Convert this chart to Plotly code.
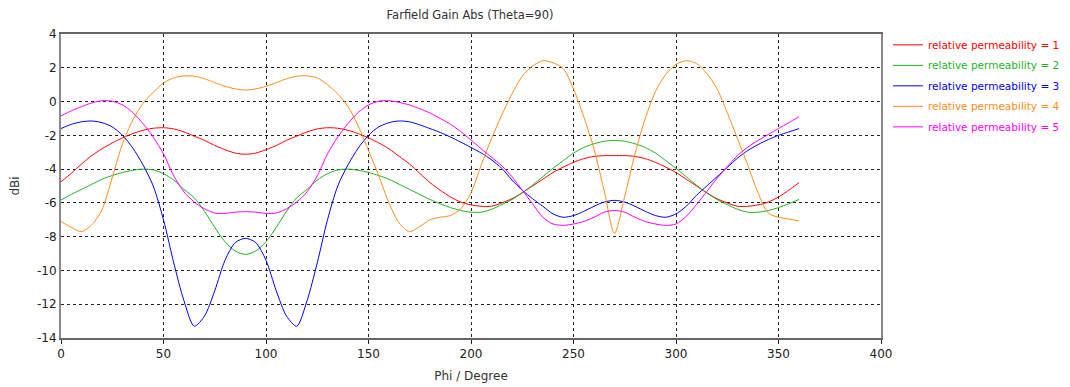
import plotly.graph_objects as go

phi = list(range(0, 361, 5))

mu1 = [-4.75, -4.25, -3.7, -3.2, -2.8, -2.45, -2.15, -1.9, -1.7, -1.58, -1.55, -1.62, -1.8, -2.05, -2.3, -2.6, -2.85, -3.05, -3.12,
       -3.05, -2.85, -2.6, -2.3, -2.05, -1.8, -1.62, -1.55, -1.58, -1.7, -1.9, -2.15, -2.45, -2.8, -3.25, -3.7, -4.25, -4.8,
       -5.25, -5.65, -5.95, -6.12, -6.2, -6.2, -6.0, -5.75, -5.4, -5.0, -4.6, -4.2, -3.88, -3.6, -3.38, -3.25, -3.2, -3.2,
       -3.2, -3.25, -3.38, -3.6, -3.88, -4.2, -4.6, -5.0, -5.4, -5.75, -6.0, -6.2, -6.2, -6.12, -5.95, -5.65, -5.25, -4.8]

mu2 = [-5.83, -5.5, -5.2, -4.9, -4.6, -4.38, -4.2, -4.07, -4.0, -4.05, -4.27, -4.65, -5.2, -5.7, -6.5, -7.45, -8.3, -8.85, -9.05,
       -8.85, -8.3, -7.45, -6.5, -5.7, -5.2, -4.65, -4.27, -4.05, -4.0, -4.07, -4.2, -4.38, -4.6, -4.9, -5.2, -5.5, -5.8,
       -6.05, -6.28, -6.45, -6.55, -6.55, -6.38, -6.1, -5.8, -5.4, -4.95, -4.45, -3.95, -3.5, -3.05, -2.72, -2.5, -2.35, -2.3,
       -2.35, -2.5, -2.72, -3.05, -3.5, -3.95, -4.45, -4.95, -5.4, -5.8, -6.1, -6.38, -6.55, -6.55, -6.45, -6.28, -6.05, -5.8]

mu3 = [-1.6, -1.35, -1.2, -1.15, -1.25, -1.5, -2.0, -2.75, -3.75, -5.0, -7.0, -9.55, -11.8, -13.3, -12.7, -11.2, -9.4, -8.35, -8.1,
       -8.35, -9.4, -11.2, -12.7, -13.3, -11.8, -9.55, -7.0, -5.0, -3.75, -2.75, -2.0, -1.5, -1.25, -1.15, -1.2, -1.38, -1.6,
       -1.83, -2.1, -2.4, -2.72, -3.05, -3.45, -3.95, -4.65, -5.25, -5.75, -6.2, -6.65, -6.85, -6.75, -6.5, -6.2, -5.95, -5.85,
       -5.95, -6.2, -6.5, -6.75, -6.85, -6.65, -6.2, -5.55, -5.0, -4.45, -3.9, -3.35, -2.9, -2.55, -2.25, -2.0, -1.8, -1.6]

mu4 = [-7.1, -7.45, -7.7, -7.3, -6.4, -4.5, -2.5, -1.1, -0.1, 0.55, 1.1, 1.4, 1.52, 1.5, 1.35, 1.12, 0.9, 0.75, 0.68,
       0.75, 0.9, 1.12, 1.35, 1.5, 1.52, 1.4, 1.0, 0.45, -0.3, -1.45, -2.9, -4.4, -6.0, -7.2, -7.7, -7.4, -7.0,
       -6.85, -6.75, -6.35, -5.4, -3.75, -2.2, -0.8, 0.45, 1.5, 2.1, 2.42, 2.3, 1.95, 0.75, -0.9, -2.8, -5.3, -7.8,
       -5.6, -3.1, -1.0, 0.6, 1.6, 2.2, 2.42, 2.25, 1.67, 0.75, -0.65, -2.2, -3.75, -5.4, -6.6, -6.85, -6.95, -7.07]

mu5 = [-0.85, -0.55, -0.3, -0.08, 0.05, 0.02, -0.2, -0.65, -1.3, -2.1, -3.1, -4.4, -5.35, -5.95, -6.35, -6.6, -6.62, -6.55, -6.52,
       -6.55, -6.62, -6.6, -6.35, -5.95, -5.35, -4.4, -3.1, -2.1, -1.3, -0.65, -0.2, 0.02, 0.05, -0.05, -0.2, -0.42, -0.68,
       -1.0, -1.35, -1.78, -2.28, -2.8, -3.3, -3.8, -4.45, -5.25, -6.05, -6.85, -7.25, -7.33, -7.25, -7.1, -6.85, -6.55, -6.45,
       -6.55, -6.85, -7.1, -7.25, -7.33, -7.25, -6.8, -6.1, -5.33, -4.55, -3.85, -3.2, -2.7, -2.3, -1.95, -1.6, -1.25, -0.9]

series_names = ["relative permeability = 1", "relative permeability = 2", "relative permeability = 3",
                "relative permeability = 4", "relative permeability = 5"]
series_values = [mu1, mu2, mu3, mu4, mu5]
colors = ["#ff0000", "#1fb21f", "#0000ff", "#ff8c1a", "#ff00ff"]

x_ticks = [0, 50, 100, 150, 200, 250, 300, 350, 400]
y_ticks = [-14, -12, -10, -8, -6, -4, -2, 0, 2, 4]

FONT = "DejaVu Sans"
W, H = 1062, 379  # page body has an 8px default margin

fig = go.Figure()
for i, (name, vals, c) in enumerate(zip(series_names, series_values, colors)):
    fig.add_trace(go.Scatter(
        x=phi, y=vals, mode="lines",
        line=dict(color=c, width=1, shape="spline", smoothing=0.8),
        name=f"<span style='color:{c}'>{name}</span>",
        legendgroup=f"g{i}",
    ))

fig.update_layout(
    width=W, height=H,
    margin=dict(l=53, r=189, t=26, b=49, autoexpand=False),
    paper_bgcolor="white", plot_bgcolor="white",
    font=dict(family=FONT, size=12, color="#222"),
    title=dict(text="Farfield Gain Abs (Theta=90)", x=462 / W, xanchor="center",
               y=1 - 7 / H, yanchor="middle", automargin=False,
               font=dict(family=FONT, size=11.5, color="#333")),
    showlegend=True,
    legend=dict(x=1.0085, xanchor="left", y=1.012, yanchor="top", bgcolor="rgba(0,0,0,0)",
                font=dict(family=FONT, size=10.5), tracegroupgap=1.5, itemwidth=30,
                borderwidth=0),
)
fig.update_xaxes(
    range=[0, 400], tickvals=x_ticks, ticktext=[str(v) for v in x_ticks], automargin=False,
    showgrid=True, gridcolor="#222", gridwidth=1, griddash="3px,3px",
    zeroline=False, showline=True, linecolor="#666", linewidth=2, mirror=True,
    ticks="outside", ticklen=4, tickcolor="#222", tickfont=dict(size=12),
    title=dict(text="Phi / Degree", standoff=11, font=dict(family=FONT, size=12, color="#333")),
)
fig.update_yaxes(
    range=[-14, 4], tickvals=y_ticks, ticktext=[str(v) for v in y_ticks], automargin=False,
    showgrid=True, gridcolor="#222", gridwidth=1, griddash="3px,3px",
    zeroline=False, showline=True, linecolor="#888", linewidth=2, mirror=True,
    ticks="", tickfont=dict(size=12),
    title=dict(text="dBi", standoff=19, font=dict(family=FONT, size=12, color="#333")),
)

fig.write_html("out.html")
